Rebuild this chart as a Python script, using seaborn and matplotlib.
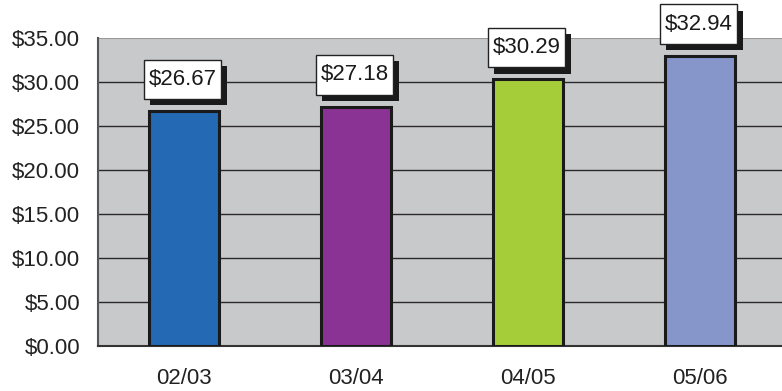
import numpy as np
import pandas as pd
import matplotlib
matplotlib.use("Agg")
import matplotlib.pyplot as plt
import matplotlib.patheffects as pe
from matplotlib.path import Path
import seaborn as sns

years = ["02/03", "03/04", "04/05", "05/06"]
values = [26.67, 27.18, 30.29, 32.94]
colors = ["#2369B4", "#8B3394", "#A5CD3A", "#8696CB"]

sns.set_theme(style="white")
plt.rcParams['font.family'] = ['Liberation Sans', 'DejaVu Sans']

df = pd.DataFrame({"year": years, "value": values})


def label_box(x0, y0, width, height, mutation_size):
    # wider vertical padding than horizontal, like the excel labels
    px = 0.2 * mutation_size
    py = 0.42 * mutation_size
    x0, y0 = x0 - px, y0 - py
    x1, y1 = x0 + width + 2 * px, y0 + height + 2 * py
    return Path([(x0, y0), (x1, y0), (x1, y1), (x0, y1), (x0, y0)], closed=True)


fig = plt.figure(figsize=(7.82, 3.91), dpi=100)
ax = fig.add_axes([98 / 782, 1 - 346 / 391, 688 / 782, 308 / 391])
ax.set_facecolor("#C8C9CB")

sns.barplot(data=df, x="year", y="value", hue="year", palette=colors,
            saturation=1, width=0.41, edgecolor="#1a1a1a", linewidth=2.2,
            legend=False, ax=ax, zorder=3)

ax.set_xlim(-0.5, 3.5)
ax.set_ylim(0, 35)
ax.set_yticks(np.arange(0, 36, 5))
ax.set_yticklabels(["${:.2f}".format(v) for v in np.arange(0, 36, 5)])
for y in np.arange(5, 35, 5):
    ax.axhline(y, color="#2a2a2a", lw=1.0, zorder=1)
ax.axhline(35, color="#999999", lw=1.5, zorder=1)

ax.set_xticks(range(4))
ax.set_xticklabels(years)
ax.set_xticks(np.arange(-0.5, 3.6, 1), minor=True)
ax.tick_params(axis="x", which="major", length=0, pad=16, labelsize=16, colors="#222222")
ax.tick_params(axis="x", which="minor", length=6, width=1, color="#555555", direction="out")
ax.tick_params(axis="y", length=7, width=1, color="#555555", direction="out", pad=6,
               labelsize=16, colors="#222222")
ax.set_xlabel("")
ax.set_ylabel("")

for s in ["top", "right"]:
    ax.spines[s].set_visible(False)
ax.spines["left"].set_color("#555555")
ax.spines["left"].set_linewidth(1.5)
ax.spines["bottom"].set_color("#333333")
ax.spines["bottom"].set_linewidth(1.5)

for i, v in enumerate(values):
    t = ax.annotate("${:.2f}".format(v), xy=(i, v), xytext=(-1, 23),
                    textcoords="offset points", ha="center", va="center",
                    fontsize=16, color="#1a1a1a", zorder=5,
                    bbox=dict(boxstyle=label_box, fc="white", ec="#222222", lw=1),
                    annotation_clip=False)
    t.get_bbox_patch().set_path_effects([
        pe.SimplePatchShadow(offset=(4.5, -4.5), shadow_rgbFace="#1a1a1a", alpha=1),
        pe.Normal()])

fig.savefig("out.png", dpi=100)
